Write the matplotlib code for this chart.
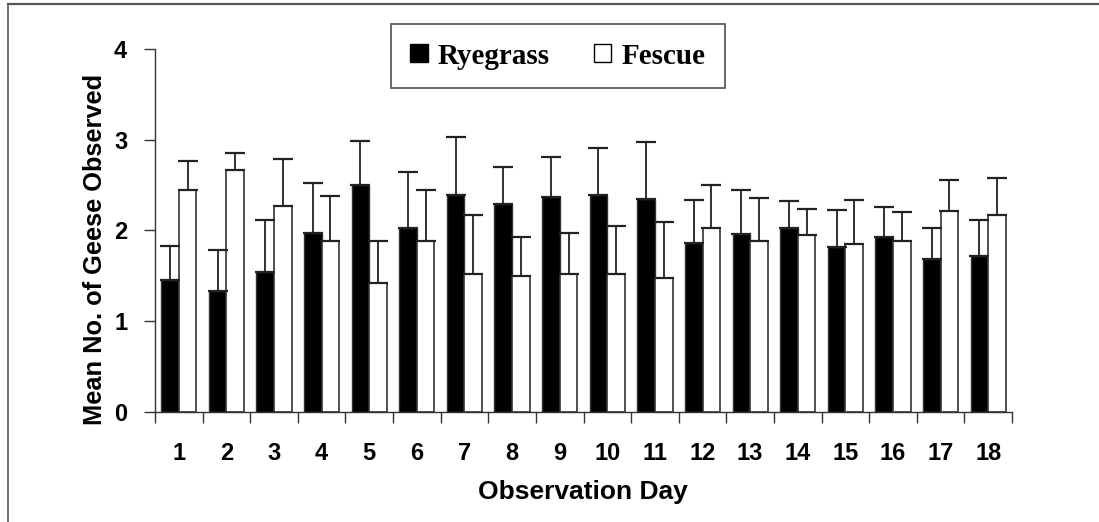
import matplotlib
matplotlib.use("Agg")
import matplotlib.pyplot as plt
from matplotlib.lines import Line2D
from matplotlib.patches import Patch
import numpy as np

# Data
days = [str(d) for d in range(1, 19)]
ryegrass = [1.45, 1.33, 1.54, 1.97, 2.50, 2.03, 2.39, 2.29, 2.37,
            2.39, 2.35, 1.86, 1.96, 2.03, 1.82, 1.93, 1.68, 1.72]
ryegrass_top = [1.83, 1.78, 2.11, 2.52, 2.99, 2.64, 3.03, 2.70, 2.81,
                2.91, 2.97, 2.34, 2.44, 2.32, 2.22, 2.26, 2.03, 2.11]
fescue = [2.44, 2.67, 2.27, 1.88, 1.42, 1.88, 1.52, 1.50, 1.52,
          1.52, 1.48, 2.03, 1.88, 1.95, 1.85, 1.88, 2.21, 2.17]
fescue_top = [2.77, 2.85, 2.79, 2.38, 1.88, 2.44, 2.17, 1.93, 1.97,
              2.05, 2.09, 2.50, 2.36, 2.24, 2.34, 2.20, 2.56, 2.58]

ryegrass_err = np.array(ryegrass_top) - np.array(ryegrass)
fescue_err = np.array(fescue_top) - np.array(fescue)

sans = "Liberation Sans"
serif = "Liberation Serif"

fig = plt.figure(figsize=(10.99, 5.22), dpi=100)
ax = fig.add_axes([155 / 1099, 1 - 411.7 / 522, 857 / 1099, 362.7 / 522])

x = np.arange(len(days))
width = 0.37
off = 0.185
ekw = dict(ecolor="#222222", elinewidth=1.3, capsize=7, capthick=1.6)

ax.bar(x - off, ryegrass, width, color="black", edgecolor="#333333", linewidth=1.0,
       yerr=[np.zeros(len(x)), ryegrass_err], error_kw=ekw, zorder=2)
ax.bar(x + off, fescue, width, color="white", edgecolor="#333333", linewidth=1.2,
       yerr=[np.zeros(len(x)), fescue_err], error_kw=ekw, zorder=2)

ax.set_xlim(-0.5, 17.5)
ax.set_ylim(0, 4)
ax.set_yticks([0, 1, 2, 3, 4])

ax.set_xticks(x)
ax.set_xticklabels(days)
ax.set_xticks(np.arange(-0.5, 18, 1), minor=True)
ax.tick_params(axis="x", which="major", length=0, pad=22)
ax.tick_params(axis="x", which="minor", length=8, width=1.0, color="#333333", direction="out")
ax.tick_params(axis="y", length=8, width=1.0, color="#333333", pad=12)

for lab in ax.get_xticklabels() + ax.get_yticklabels():
    lab.set_fontfamily(sans)
    lab.set_fontweight("bold")
    lab.set_fontsize(17)

for side in ["top", "right"]:
    ax.spines[side].set_visible(False)
for side in ["left", "bottom"]:
    ax.spines[side].set_color("#333333")
    ax.spines[side].set_linewidth(1.0)

fig.text(583 / 1099, 1 - 492 / 522, "Observation Day", ha="center", va="center",
         fontfamily=sans, fontweight="bold", fontsize=19)
fig.text(95 / 1099, 1 - 249 / 522, "Mean No. of Geese Observed", ha="center", va="center",
         rotation=90, fontfamily=sans, fontweight="bold", fontsize=18.3)

handles = [Patch(facecolor="black", edgecolor="black", label="Ryegrass"),
           Patch(facecolor="white", edgecolor="black", linewidth=1.0, label="Fescue")]
leg = fig.legend(handles=handles, loc="center", ncol=2,
                 bbox_to_anchor=(558 / 1099, 1 - 56 / 522),
                 prop={"family": serif, "weight": "bold", "size": 21},
                 frameon=True, fancybox=False, shadow=False,
                 handlelength=0.6, handleheight=0.6, handletextpad=0.35,
                 columnspacing=1.5, borderpad=0.65, borderaxespad=0)
leg.get_frame().set_edgecolor("#333333")
leg.get_frame().set_linewidth(1.3)

# outer frame (top and left edges visible)
fig.add_artist(Line2D([8 / 1099, 1.0], [1 - 3.5 / 522, 1 - 3.5 / 522],
                      transform=fig.transFigure, color="#555555", linewidth=1.6))
fig.add_artist(Line2D([8 / 1099, 8 / 1099], [1 - 3.5 / 522, 0.0],
                      transform=fig.transFigure, color="#555555", linewidth=1.2))

plt.savefig("out.png", dpi=100)
